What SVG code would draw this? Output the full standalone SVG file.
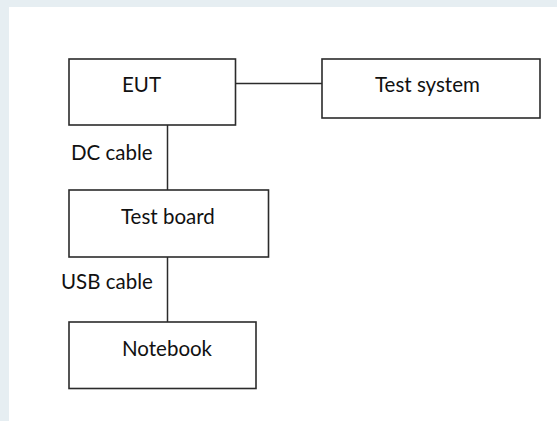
<svg xmlns="http://www.w3.org/2000/svg" width="557" height="421" viewBox="0 0 557 421">
<style>
.box{fill:#fff;stroke:#2b2b2b;stroke-width:1.6}
.wire{stroke:#2b2b2b;stroke-width:1.5;fill:none}
text{font-family:Lato,"Open Sans","Liberation Sans",sans-serif;font-size:20.5px;fill:#111}
</style>
<rect x="0" y="0" width="557" height="421" fill="#fff"/>
<rect x="0" y="0" width="557" height="7" fill="#e6eef2"/>
<rect x="0" y="0" width="9" height="421" fill="#e6eef2"/>
<g id="connectors">
<line class="wire" x1="236" y1="83.5" x2="322" y2="83.5"/>
<line class="wire" x1="167.5" y1="125" x2="167.5" y2="190"/>
<line class="wire" x1="167.5" y1="257" x2="167.5" y2="322"/>
<text x="71" y="160">DC cable</text>
<text x="61" y="289">USB cable</text>
</g>
<g id="eut"><rect class="box" x="69" y="59" width="166.5" height="66"/><text x="122" y="92.3">EUT</text></g>
<g id="test-system"><rect class="box" x="322" y="59" width="218" height="59"/><text x="375" y="92.3">Test system</text></g>
<g id="test-board"><rect class="box" x="69" y="190" width="199.5" height="67"/><text x="121" y="224">Test board</text></g>
<g id="notebook"><rect class="box" x="69" y="322" width="187" height="66.5"/><text x="122" y="355.7">Notebook</text></g>
</svg>
